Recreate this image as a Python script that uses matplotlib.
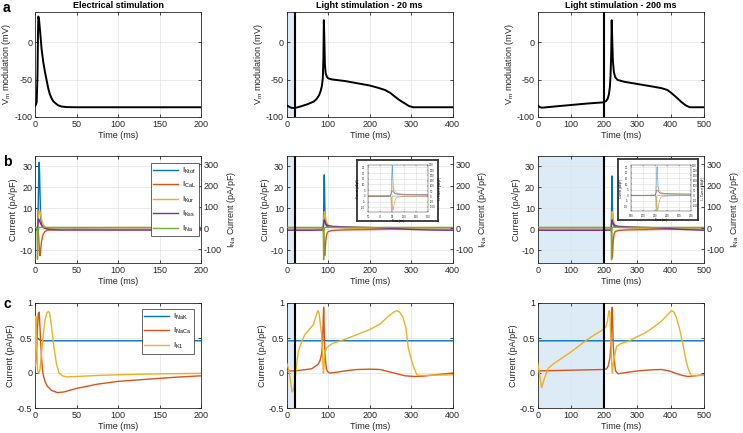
import matplotlib
matplotlib.use('Agg')
import matplotlib.pyplot as plt

plt.rcParams['font.family'] = ['Liberation Sans', 'DejaVu Sans']
plt.rcParams['mathtext.fontset'] = 'custom'
plt.rcParams['mathtext.rm'] = 'Liberation Sans'
plt.rcParams['mathtext.it'] = 'Liberation Sans:italic'
plt.rcParams['mathtext.bf'] = 'Liberation Sans:bold'
plt.rcParams['axes.unicode_minus'] = False
plt.rcParams['font.size'] = 6

# ---------------- data ----------------
titles = ['Electrical stimulation', 'Light stimulation - 20 ms', 'Light stimulation - 200 ms']
xmax = [200, 400, 500]
xstep = [50, 100, 100]
stim_end = [None, 20, 200]

# Row a: membrane potential (mV)
va_e_t = [0, 1, 2, 3, 3.5, 4, 4.5, 5, 6, 7, 8, 10, 12, 14, 16, 18, 20, 22, 25, 28, 32, 38, 50, 100, 200]
va_e_v = [-85, -84, -80, -45, 5, 34, 32, 28, 16, 3, -10, -27, -40, -51, -62, -70, -75, -79, -82, -84.5, -86, -86.8, -87, -87, -87]
va_20_t = [0, 5, 10, 15, 20, 30, 50, 65, 72, 78, 82, 85, 87, 88.5, 89.5, 90.5, 92, 94, 97, 100, 110, 140, 170, 200,
           220, 237, 250, 261, 273, 285, 295, 305, 320, 400]
va_20_v = [-84.5, -86, -87.5, -88, -88, -86.5, -83, -79.5, -76, -71, -65, -58, -48, -20, 29, 10, -30, -42, -46.5, -48.5,
           -50, -52, -55, -58, -61, -64, -68, -73, -78, -82, -85.5, -87, -87, -87]
va_200_t = [0, 5, 12, 30, 60, 100, 150, 197, 205, 210, 214, 217, 219, 221, 222.5, 224, 226, 229, 233, 240, 260, 300,
            340, 372, 390, 402, 415, 432, 445, 457, 470, 500]
va_200_v = [-84.5, -86.5, -87.6, -86.9, -85.6, -84, -82, -80.5, -79, -76, -70, -60, -45, -15, 29, 5, -25, -40, -47,
            -50.5, -53, -56, -59, -61.5, -64, -68, -73, -80, -84.5, -87, -87, -87]

# Row b: currents (pA/pF); INa on right axis
b_e_t = [0, 2, 2.5, 3, 3.5, 4, 4.5, 5, 5.5, 6, 6.5, 7, 8, 9, 10, 12, 15, 20, 30, 50, 100, 150, 200]
b_e_ktof = [0, 0, 0.1, 0.5, 4, 14, 26, 32, 27, 18, 10, 5, 2, 1.2, 0.8, 0.5, 0.3, 0.2, 0.1, 0.1, 0, 0, 0]
b_e_cal = [0, 0, 0, 0, 0, -1, -4, -8, -11, -12.5, -11, -9, -5.5, -3.5, -2.2, -1, -0.4, -0.2, -0.1, 0, 0, 0, 0]
b_e_kur = [0, 0, 0.1, 0.5, 2, 5, 7.5, 9, 9, 8.5, 7.5, 6.5, 4.5, 3.2, 2.3, 1.2, 0.5, 0.2, 0.1, 0, 0, 0, 0]
b_e_kss = [-0.3, -0.3, -0.2, 0.5, 2.5, 4.8, 5, 4.5, 4, 3.5, 3, 2.6, 2, 1.5, 1.1, 0.6, 0.2, -0.1, -0.3, -0.3, -0.3, -0.3, -0.3]
b_e_na = [3, 3, -10, -147, -40, -8, 0, 2, 3, 3, 3, 3, 3, 3, 3, 3, 3, 3, 3, 3, 3, 3, 3]

b_20_t = [0, 20, 60, 85, 87, 88, 88.5, 89, 89.5, 90, 90.5, 91, 91.5, 92, 93, 94, 95, 97, 100, 110, 130, 150, 200, 250,
          300, 350, 400]
b_20_ktof = [0, 0, 0, 0.1, 0.3, 1, 3, 8, 16, 23, 26, 22, 15, 9, 4, 2.5, 2, 1.5, 1.2, 1.0, 0.9, 0.8, 0.6, 0.4, 0.2, 0.1, 0]
b_20_cal = [0, 0, 0, 0, 0, 0, -0.5, -1.5, -3, -6, -9, -11.5, -12.5, -12, -9, -6, -4, -2, -1, -0.5, -0.3, -0.2, -0.1, 0,
            0, 0, 0]
b_20_kur = [0, 0, 0, 0.1, 0.3, 0.8, 1.5, 3, 5, 7, 8, 8.5, 8.3, 7.8, 6.5, 5.3, 4.3, 3, 2, 1.2, 0.9, 0.7, 0.5, 0.3, 0.2,
            0.1, 0]
b_20_kss = [-0.4, -0.4, -0.4, -0.3, 0, 0.8, 1.5, 2.5, 3.5, 4.5, 4.5, 4.2, 3.9, 3.6, 3.2, 2.8, 2.5, 2.1, 1.8, 1.5, 1.3,
            1.2, 0.9, 0.5, 0, -0.3, -0.4]
b_20_na = [3, 3, 3, 3, 2, -10, -60, -150, -80, -20, -5, 0, 2, 3, 3, 3, 3, 3, 3, 3, 3, 3, 3, 3, 3, 3, 3]

b_200_t = [0, 12, 100, 200, 218, 220, 221, 221.5, 222, 222.5, 223, 223.5, 224, 224.5, 225, 226, 227, 228, 230, 233,
           243, 263, 283, 333, 383, 433, 483, 500]
b_200_ktof = [0, 0, 0, 0, 0.1, 0.3, 1, 3, 8, 16, 23, 25.5, 22, 15, 9, 4, 2.5, 2, 1.5, 1.2, 1, 0.9, 0.8, 0.6, 0.4, 0.2,
              0.1, 0]
b_200_cal = [0, 0, 0, 0, 0, 0, 0, -0.5, -1.5, -3, -6, -9, -11.5, -13.5, -12.5, -9, -6, -4, -2, -1, -0.5, -0.3, -0.2,
             -0.1, 0, 0, 0, 0]
b_200_kur = [0, 0, 0, 0, 0.1, 0.3, 0.8, 1.5, 3, 5, 7, 8, 8.5, 8.3, 7.8, 6.5, 5.3, 4.3, 3, 2, 1.2, 0.9, 0.7, 0.5, 0.3,
             0.2, 0.1, 0]
b_200_kss = [-0.4, -0.4, -0.4, -0.4, -0.3, 0, 0.8, 1.5, 2.5, 3.5, 4.5, 4.5, 4.2, 3.9, 3.6, 3.2, 2.8, 2.5, 2.1, 1.8,
             1.5, 1.3, 1.2, 0.9, 0.5, 0, -0.3, -0.4]
b_200_na = [3, 3, 3, 3, 3, 2, -10, -60, -150, -80, -20, -5, 0, 2, 3, 3, 3, 3, 3, 3, 3, 3, 3, 3, 3, 3, 3, 3]

inset_xlim = [None, (50, 150), (180, 280)]

# Row c: currents (pA/pF)
c_e_nak_t = [0, 3, 6, 10, 200]
c_e_nak_v = [0.52, 0.5, 0.47, 0.46, 0.46]
c_e_naca_t = [0, 1, 2, 3, 4, 5, 6, 7, 8, 9, 10, 12, 15, 20, 27, 35, 50, 75, 100, 140, 170, 200]
c_e_naca_v = [0.05, 0.15, 0.35, 0.65, 0.85, 0.87, 0.65, 0.4, 0.2, 0.05, -0.03, -0.12, -0.19, -0.25, -0.28, -0.27,
              -0.22, -0.16, -0.12, -0.085, -0.06, -0.04]
c_e_k1_t = [0, 0.5, 1, 1.5, 2, 3, 4, 5, 6, 8, 10, 12, 14, 16, 17.5, 19, 21, 23, 26, 29, 33, 38, 50, 75, 100, 150, 200]
c_e_k1_v = [0.1, 0.6, 0.81, 0.7, 0.4, 0.05, 0.0, 0.0, 0.05, 0.3, 0.55, 0.75, 0.85, 0.88, 0.86, 0.75, 0.55, 0.35, 0.12,
            0.0, -0.04, -0.055, -0.05, -0.035, -0.025, -0.012, -0.005]

c_20_nak_t = [0, 85, 90, 95, 400]
c_20_nak_v = [0.46, 0.46, 0.47, 0.46, 0.46]
c_20_naca_t = [0, 20, 60, 75, 80, 84, 86, 87.5, 89, 90, 91, 92, 94, 96, 100, 104, 120, 140, 170, 200, 225, 245, 265,
               285, 309, 330, 350, 375, 400]
c_20_naca_v = [0.03, 0.03, 0.06, 0.12, 0.17, 0.27, 0.4, 0.65, 0.94, 0.75, 0.45, 0.3, 0.15, 0.05, 0.01, 0.0, 0.01,
               0.03, 0.05, 0.055, 0.05, 0.02, -0.01, -0.04, -0.05, -0.045, -0.03, -0.015, 0.0]
c_20_k1_t = [0, 5, 10, 13, 16, 20, 24, 28, 36, 44, 54, 64, 70, 75, 78, 81, 84, 86, 87.5, 88.5, 90, 92, 95, 100, 110,
             140, 170, 200, 225, 245, 258, 265, 272, 280, 287, 293, 300, 305, 313, 320, 333, 360, 400]
c_20_k1_v = [0.14, 0.05, -0.15, -0.27, -0.25, -0.1, 0.12, 0.31, 0.45, 0.55, 0.62, 0.69, 0.8, 0.89, 0.86, 0.7, 0.55,
             0.35, 0.1, 0.0, 0.12, 0.3, 0.35, 0.38, 0.42, 0.48, 0.55, 0.62, 0.7, 0.81, 0.87, 0.89, 0.87, 0.8, 0.65,
             0.36, 0.2, 0.1, -0.02, -0.035, -0.035, -0.03, -0.025]

c_200_nak_t = [0, 220, 224, 228, 500]
c_200_nak_v = [0.46, 0.46, 0.47, 0.46, 0.46]
c_200_naca_t = [0, 100, 200, 207, 212, 217, 220, 222, 224, 225.5, 227, 230, 234, 242, 270, 302, 340, 372, 395, 412,
                435, 452, 475, 500]
c_200_naca_v = [0.03, 0.04, 0.05, 0.06, 0.1, 0.21, 0.4, 0.7, 0.94, 0.7, 0.4, 0.2, 0.03, -0.01, 0.01, 0.03, 0.045,
                0.05, 0.03, 0.0, -0.035, -0.05, -0.04, -0.025]
c_200_k1_t = [0, 5, 12, 20, 32, 50, 72, 100, 122, 150, 172, 197, 205, 210, 213, 215, 217, 219, 221, 223, 224.5, 227,
              230, 237, 250, 272, 300, 322, 350, 372, 390, 402, 410, 417, 427, 437, 445, 452, 458, 462, 475, 500]
c_200_k1_v = [0.14, 0.0, -0.21, -0.08, 0.07, 0.14, 0.21, 0.3, 0.38, 0.48, 0.55, 0.62, 0.66, 0.75, 0.86, 0.89, 0.86,
              0.6, 0.35, 0.1, 0.0, 0.12, 0.21, 0.38, 0.42, 0.45, 0.52, 0.57, 0.66, 0.74, 0.83, 0.89, 0.87, 0.79, 0.62,
              0.4, 0.2, 0.07, 0.0, -0.035, -0.035, -0.03]

b_labels = [r'I$_{\mathrm{Ktof}}$', r'I$_{\mathrm{CaL}}$', r'I$_{\mathrm{Kur}}$', r'I$_{\mathrm{Kss}}$', r'I$_{\mathrm{Na}}$']
c_labels = [r'I$_{\mathrm{NaK}}$', r'I$_{\mathrm{NaCa}}$', r'I$_{\mathrm{K1}}$']

# ---------------- style ----------------
BLUE, ORANGE, YELLOW, PURPLE, GREEN = '#0072BD', '#D95319', '#EDB120', '#7E2F8E', '#77AC30'
SHADE = '#ddebf7'
AX = '#262626'
GRID = '#e3e3e3'
FS = 6.5

W, H = 743, 433
fig = plt.figure(figsize=(W / 100, H / 100), dpi=100)
fig.patch.set_facecolor('white')

col_x = [(35, 201), (286.7, 452.7), (537.7, 704)]
row_y = [(12, 117), (156, 263), (303, 408)]


def rect(x0, x1, y0, y1):
    return [x0 / W, 1 - y1 / H, (x1 - x0) / W, (y1 - y0) / H]


def style(ax, right_ticks=True, fs=FS, lw=0.6, tl=2.5):
    for s in ax.spines.values():
        s.set_color(AX)
        s.set_linewidth(lw)
    ax.tick_params(direction='in', length=tl, width=lw, colors=AX, labelsize=fs, top=True, right=right_ticks, pad=2)
    ax.grid(True, color=GRID, lw=0.5)
    ax.set_axisbelow(True)


b_data = [
    (b_e_t, b_e_ktof, b_e_cal, b_e_kur, b_e_kss, b_e_na),
    (b_20_t, b_20_ktof, b_20_cal, b_20_kur, b_20_kss, b_20_na),
    (b_200_t, b_200_ktof, b_200_cal, b_200_kur, b_200_kss, b_200_na),
]
a_data = [(va_e_t, va_e_v), (va_20_t, va_20_v), (va_200_t, va_200_v)]
c_data = [
    (c_e_nak_t, c_e_nak_v, c_e_naca_t, c_e_naca_v, c_e_k1_t, c_e_k1_v),
    (c_20_nak_t, c_20_nak_v, c_20_naca_t, c_20_naca_v, c_20_k1_t, c_20_k1_v),
    (c_200_nak_t, c_200_nak_v, c_200_naca_t, c_200_naca_v, c_200_k1_t, c_200_k1_v),
]
inset_px = [None, (357, 438, 160, 221), (618, 698, 159, 220)]
inset_inner_px = [None, (368, 428, 165, 212), (631, 691, 165, 211)]


def draw_b(ax, axr, d, lw=1.0, alpha=1.0):
    t, ktof, cal, kur, kss, na = d
    h1, = ax.plot(t, ktof, color=BLUE, lw=lw, alpha=alpha)
    h2, = ax.plot(t, cal, color=ORANGE, lw=lw, alpha=alpha)
    h3, = ax.plot(t, kur, color=YELLOW, lw=lw, alpha=alpha)
    h4, = ax.plot(t, kss, color=PURPLE, lw=lw, alpha=alpha)
    h5, = axr.plot(t, na, color=GREEN, lw=lw, alpha=alpha)
    return [h1, h2, h3, h4, h5]


for j in range(3):
    x0, x1 = col_x[j]
    xt = list(range(0, xmax[j] + 1, xstep[j]))

    # ---- row a ----
    y0, y1 = row_y[0]
    ax = fig.add_axes(rect(x0, x1, y0, y1))
    style(ax)
    if j == 1:
        ax.axvspan(0, stim_end[j], color=SHADE, lw=0, zorder=0)
    if stim_end[j] is not None:
        ax.axvline(stim_end[j], color='black', lw=1.5, zorder=3)
    ax.plot(a_data[j][0], a_data[j][1], color='black', lw=1.4, zorder=4)
    ax.set_xlim(0, xmax[j])
    ax.set_ylim(-100, 40)
    ax.set_xticks(xt)
    ax.set_yticks([-100, -50, 0])
    ax.set_xlabel('Time (ms)', fontsize=FS, color=AX, labelpad=1.5)
    ax.set_ylabel(r'V$_{\mathrm{m}}$ modulation (mV)', fontsize=FS, color=AX, labelpad=1)
    ax.set_title(titles[j], fontsize=6.5, fontweight='bold', pad=3)

    # ---- row b ----
    y0, y1 = row_y[1]
    ax = fig.add_axes(rect(x0, x1, y0, y1))
    style(ax, right_ticks=False)
    axr = ax.twinx()
    for s in axr.spines.values():
        s.set_visible(False)
    axr.tick_params(direction='in', length=2.5, width=0.6, colors=AX, labelsize=FS, pad=2)
    if stim_end[j] is not None:
        ax.axvspan(0, stim_end[j], color=SHADE, lw=0, zorder=0)
        axr.axvline(stim_end[j], color='black', lw=1.5, zorder=5)
    handles = draw_b(ax, axr, b_data[j])
    ax.set_xlim(0, xmax[j])
    ax.set_ylim(-16, 35)
    axr.set_ylim(-165, 340)
    ax.set_xticks(xt)
    ax.set_yticks([-10, 0, 10, 20, 30])
    axr.set_yticks([-100, 0, 100, 200, 300])
    ax.set_xlabel('Time (ms)', fontsize=FS, color=AX, labelpad=1.5)
    ax.set_ylabel('Current (pA/pF)', fontsize=FS, color=AX, labelpad=1)
    axr.set_ylabel(r'I$_{\mathrm{Na}}$ Current (pA/pF)', fontsize=FS, color=AX, labelpad=2)
    if j == 0:
        leg = axr.legend(handles, b_labels, loc='upper right', bbox_to_anchor=(0.988, 0.937), fontsize=5.6,
                         frameon=True, fancybox=False, edgecolor=AX, framealpha=1, handlelength=3.2,
                         labelspacing=0.55, borderpad=0.35, handletextpad=0.5, borderaxespad=0)
        leg.get_frame().set_linewidth(0.5)
    else:
        bx0, bx1, by0, by1 = inset_px[j]
        box = fig.add_axes(rect(bx0, bx1, by0, by1), zorder=10)
        box.set_xticks([]); box.set_yticks([])
        for s in box.spines.values():
            s.set_color('#333333'); s.set_linewidth(1.3)
        ix0, ix1, iy0, iy1 = inset_inner_px[j]
        ia = fig.add_axes(rect(ix0, ix1, iy0, iy1), zorder=11)
        style(ia, right_ticks=False, fs=2.0, lw=0.3, tl=1)
        iar = ia.twinx()
        for s in iar.spines.values():
            s.set_visible(False)
        iar.tick_params(direction='in', length=1, width=0.3, colors=AX, labelsize=2.0, pad=1)
        draw_b(ia, iar, b_data[j], lw=0.5, alpha=0.6)
        lo, hi = inset_xlim[j]
        ia.set_xlim(lo, hi)
        ia.set_xticks(list(range(lo, hi + 1, 20)))
        ia.set_ylim(-14, 27)
        iar.set_ylim(-150, 300)
        ia.set_yticks(list(range(-10, 26, 5)))
        iar.set_yticks(list(range(-100, 301, 50)))
        ia.set_xlabel('Time (ms)', fontsize=2.0, labelpad=0.5)
        ia.set_ylabel('Current (pA/pF)', fontsize=2.0, labelpad=0.5)
        iar.set_ylabel(r'I$_{\mathrm{Na}}$ Current (pA/pF)', fontsize=2.0, labelpad=0.5)

    # ---- row c ----
    y0, y1 = row_y[2]
    ax = fig.add_axes(rect(x0, x1, y0, y1))
    style(ax)
    if stim_end[j] is not None:
        ax.axvspan(0, stim_end[j], color=SHADE, lw=0, zorder=0)
        ax.axvline(stim_end[j], color='black', lw=1.5, zorder=5)
    d = c_data[j]
    h1, = ax.plot(d[0], d[1], color=BLUE, lw=1.0, zorder=3)
    h2, = ax.plot(d[2], d[3], color=ORANGE, lw=1.0, zorder=3)
    h3, = ax.plot(d[4], d[5], color=YELLOW, lw=1.0, zorder=3)
    ax.set_xlim(0, xmax[j])
    ax.set_ylim(-0.5, 1)
    ax.set_xticks(xt)
    ax.set_yticks([-0.5, 0, 0.5, 1])
    ax.set_yticklabels(['-0.5', '0', '0.5', '1'])
    ax.set_xlabel('Time (ms)', fontsize=FS, color=AX, labelpad=1.5)
    ax.set_ylabel('Current (pA/pF)', fontsize=FS, color=AX, labelpad=1)
    if j == 0:
        leg = ax.legend([h1, h2, h3], c_labels, loc='upper right', bbox_to_anchor=(0.958, 0.943), fontsize=5.6,
                        frameon=True, fancybox=False, edgecolor=AX, framealpha=1, handlelength=3.2,
                        labelspacing=0.55, borderpad=0.35, handletextpad=0.5, borderaxespad=0)
        leg.get_frame().set_linewidth(0.5)

# panel letters
fig.text(3 / W, 1 - 8 / H, 'a', fontsize=10, fontweight='bold', va='center', ha='left')
fig.text(3 / W, 1 - 162 / H, 'b', fontsize=10, fontweight='bold', va='center', ha='left')
fig.text(3 / W, 1 - 304 / H, 'c', fontsize=10, fontweight='bold', va='center', ha='left')

fig.savefig('out.png', dpi=100, facecolor='white')
